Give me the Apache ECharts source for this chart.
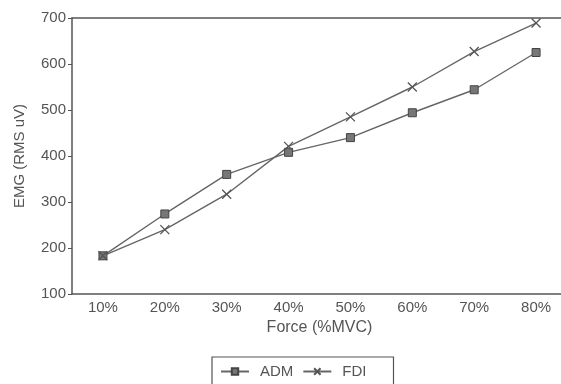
<!DOCTYPE html>
<html>
<head>
<meta charset="utf-8">
<script src="https://cdn.jsdelivr.net/npm/echarts@6/dist/echarts.min.js"></script>
<style>
  html, body { margin: 0; padding: 0; background: #fff; overflow: hidden; width: 561px; height: 384px; }
  /* canvas is a little wider than the page so the plot runs off the right edge */
  #chart { width: 567px; height: 384px; }
</style>
</head>
<body>
<div id="chart"></div>
<script>
// Force levels and RMS EMG amplitude for the two hand muscles
const forceLevels = ['10%', '20%', '30%', '40%', '50%', '60%', '70%', '80%'];
const admValues = [183, 274, 360, 408, 440, 494, 544, 625];
const fdiValues = [183, 240, 317, 421, 485, 550, 627, 689];

const ink = '#555';
const font = 'Liberation Sans, Arial, sans-serif';
const crossSymbol = 'path://M0,0L10,10M10,0L0,10';

const chart = echarts.init(document.getElementById('chart'), null, { renderer: 'canvas' });

chart.setOption({
  animation: false,
  backgroundColor: '#fff',
  textStyle: { fontFamily: font, color: ink },
  grid: { left: 72, top: 18, bottom: 90, right: 0, containLabel: false },
  xAxis: [
    {
      type: 'category',
      data: forceLevels,
      boundaryGap: true,
      name: 'Force (%MVC)',
      nameLocation: 'middle',
      nameGap: 24,
      nameTextStyle: { fontSize: 16, color: ink, fontFamily: font },
      axisLine: { lineStyle: { color: ink, width: 1.5 } },
      axisTick: { alignWithLabel: true, length: 3, lineStyle: { color: ink } },
      axisLabel: { fontSize: 15, color: ink, margin: 6, fontFamily: font },
      splitLine: { show: false }
    },
    {
      type: 'category',
      data: forceLevels,
      position: 'top',
      axisLine: { show: true, lineStyle: { color: ink, width: 1.5 } },
      axisTick: { show: false },
      axisLabel: { show: false },
      splitLine: { show: false }
    }
  ],
  yAxis: {
    type: 'value',
    min: 100,
    max: 700,
    interval: 100,
    name: 'EMG (RMS uV)',
    nameLocation: 'middle',
    nameGap: 45,
    nameTextStyle: { fontSize: 15, color: ink, fontFamily: font },
    axisLine: { show: true, lineStyle: { color: ink, width: 1.5 } },
    axisTick: { show: true, length: 4, lineStyle: { color: ink } },
    axisLabel: { fontSize: 15, color: ink, margin: 6, fontFamily: font },
    splitLine: { show: false }
  },
  legend: {
    left: 212,
    top: 357,
    orient: 'horizontal',
    padding: [7, 27, 30, 8],
    borderColor: ink,
    borderWidth: 1.2,
    itemWidth: 28,
    itemHeight: 8,
    itemGap: 9,
    textStyle: { fontSize: 15, color: ink, fontFamily: font, padding: [0, 0, 0, 6] },
    data: ['ADM', 'FDI']
  },
  series: [
    {
      name: 'ADM',
      type: 'line',
      data: admValues,
      symbol: 'rect',
      symbolSize: 8,
      lineStyle: { color: '#666', width: 1.4 },
      itemStyle: { color: '#777', borderColor: '#444', borderWidth: 1 }
    },
    {
      name: 'FDI',
      type: 'line',
      data: fdiValues,
      symbol: crossSymbol,
      symbolSize: 9,
      lineStyle: { color: '#666', width: 1.4 },
      itemStyle: { color: 'none', borderColor: '#555', borderWidth: 1.3 }
    }
  ]
});
</script>
</body>
</html>
